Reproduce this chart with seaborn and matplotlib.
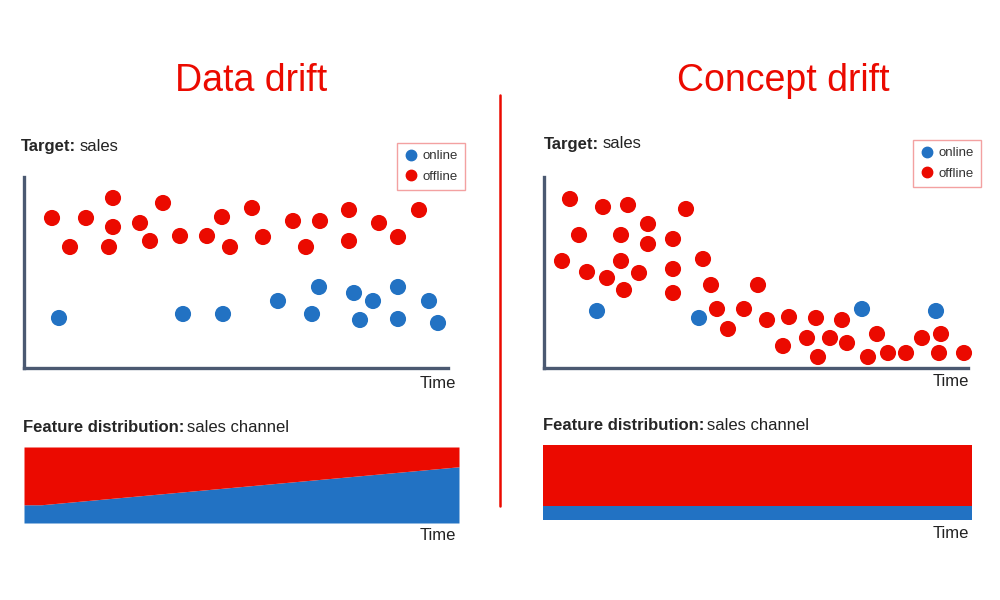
import numpy as np
import pandas as pd
import seaborn as sns
import matplotlib
matplotlib.use("Agg")
import matplotlib.pyplot as plt
from matplotlib.lines import Line2D

sns.set_style("white")
plt.rcParams['font.family'] = ['Liberation Sans', 'DejaVu Sans']

RED = '#EB0A00'
BLUE = '#2272C3'
AXIS = '#4B5971'

# --- data (time / sales in arbitrary units) ---
# Data drift: target
dd_offline_time = [28, 46, 62, 89, 89, 85, 116, 126, 139, 156, 183, 198, 206, 228, 239,
                   269, 282, 296, 325, 325, 355, 374, 395]
dd_offline_sales = [150, 121, 150, 170, 141, 121, 145, 127, 165, 132, 132, 151, 121, 160, 131,
                    147, 121, 147, 158, 127, 145, 131, 158]
dd_online_time = [35, 159, 199, 254, 288, 295, 330, 349, 336, 374, 374, 405, 414]
dd_online_sales = [50, 54, 54, 67, 54, 81, 75, 67, 48, 81, 49, 67, 45]

# Concept drift: target
cd_offline_time = [26, 59, 84, 142, 35, 77, 104, 104, 129, 18, 77, 43, 63, 95, 129, 80, 129,
                   159, 167, 214, 173, 200, 184, 223, 245, 272, 298, 239, 263, 286, 303, 274,
                   333, 324, 344, 362, 378, 397, 395, 420]
cd_offline_sales = [169, 161, 163, 159, 133, 133, 144, 124, 129, 107, 107, 96, 90, 95, 99, 78, 75,
                    109, 83, 83, 59, 59, 39, 48, 51, 50, 48, 22, 30, 30, 25, 11,
                    34, 11, 15, 15, 30, 34, 15, 15]
cd_online_time = [53, 155, 318, 392]
cd_online_sales = [57, 50, 59, 57]

# Feature distribution: share of online sales over time (0-100)
dd_dist_time = [0, 4, 100]
dd_online_share = [0.24, 0.24, 0.74]
cd_dist_time = [0, 100]
cd_online_share = [0.19, 0.19]

W, H = 1000, 600
fig = plt.figure(figsize=(10, 6), dpi=100)


def rect(x0, y0, x1, y1):
    # pixel box (top-left origin) -> figure fraction
    return [x0 / W, 1 - y1 / H, (x1 - x0) / W, (y1 - y0) / H]


def fx(x):
    return x / W


def fy(y):
    return 1 - y / H


def label_pair(x, y, bold, normal, size):
    t = fig.text(fx(x), fy(y), bold, fontsize=size, fontweight='bold', va='center', ha='left')
    r = fig.canvas.get_renderer()
    bb = t.get_window_extent(renderer=r)
    fig.text(bb.x1 / W + 3 / W, fy(y), normal, fontsize=size, va='center', ha='left', color='#222222')


def target_panel(x0, y0, x1, y1, off_t, off_s, on_t, on_s):
    ax = fig.add_axes(rect(x0, y0, x1, y1))
    df = pd.DataFrame({
        'time': list(off_t) + list(on_t),
        'sales': list(off_s) + list(on_s),
        'channel': ['offline'] * len(off_t) + ['online'] * len(on_t),
    })
    sns.scatterplot(data=df, x='time', y='sales', hue='channel',
                    palette={'offline': RED, 'online': BLUE},
                    s=135, linewidth=0, ax=ax, legend=False, clip_on=False, zorder=3)
    ax.set_xlim(0, x1 - x0)
    ax.set_ylim(0, y1 - y0)
    ax.set_xticks([])
    ax.set_yticks([])
    ax.set_xlabel('')
    ax.set_ylabel('')
    for side in ['top', 'right']:
        ax.spines[side].set_visible(False)
    for side in ['left', 'bottom']:
        ax.spines[side].set_color(AXIS)
        ax.spines[side].set_linewidth(2.4)
    ax.patch.set_alpha(0)
    return ax


def dist_panel(x0, y0, x1, y1, t, share):
    ax = fig.add_axes(rect(x0, y0, x1, y1))
    t = np.array(t)
    share = np.array(share)
    ax.fill_between(t, 0, share, color=BLUE, linewidth=0)
    ax.fill_between(t, share, 1, color=RED, linewidth=0)
    ax.set_xlim(0, 100)
    ax.set_ylim(0, 1)
    ax.set_xticks([])
    ax.set_yticks([])
    for s in ax.spines.values():
        s.set_visible(False)
    return ax


def legend_box(x, y):
    handles = [Line2D([], [], marker='o', linestyle='', color=BLUE, markersize=7.5, label='online'),
               Line2D([], [], marker='o', linestyle='', color=RED, markersize=7.5, label='offline')]
    leg = fig.legend(handles=handles, loc='upper left', bbox_to_anchor=(fx(x), fy(y)),
                     frameon=True, fancybox=False, edgecolor='#F08A8A', fontsize=9.5,
                     handletextpad=0.4, handlelength=1.0, borderpad=0.55, labelspacing=0.6,
                     borderaxespad=0)
    for txt in leg.get_texts():
        txt.set_color('#333333')


# Titles and divider
fig.text(fx(251), fy(81), 'Data drift', color=RED, fontsize=27, ha='center', va='center')
fig.text(fx(783), fy(81), 'Concept drift', color=RED, fontsize=27, ha='center', va='center')
fig.add_artist(Line2D([fx(500), fx(500)], [fy(95), fy(506)], color=RED, linewidth=1.8))

# Left: data drift
label_pair(21, 146, 'Target:', 'sales', 12)
target_panel(24, 177, 448, 368, dd_offline_time, dd_offline_sales, dd_online_time, dd_online_sales)
legend_box(397, 143)
fig.text(fx(456), fy(383), 'Time', fontsize=12, ha='right', va='center', color='#222222')
label_pair(23, 428, 'Feature distribution:', 'sales channel', 12)
dist_panel(24, 447, 459, 523, dd_dist_time, dd_online_share)
fig.text(fx(456), fy(535), 'Time', fontsize=12, ha='right', va='center', color='#222222')

# Right: concept drift
label_pair(544, 144, 'Target:', 'sales', 12)
target_panel(544, 177, 968, 368, cd_offline_time, cd_offline_sales, cd_online_time, cd_online_sales)
legend_box(913, 140)
fig.text(fx(969), fy(381), 'Time', fontsize=12, ha='right', va='center', color='#222222')
label_pair(543, 425, 'Feature distribution:', 'sales channel', 12)
dist_panel(543, 445, 972, 520, cd_dist_time, cd_online_share)
fig.text(fx(969), fy(533), 'Time', fontsize=12, ha='right', va='center', color='#222222')

fig.savefig('out.png', dpi=100, facecolor='white')
